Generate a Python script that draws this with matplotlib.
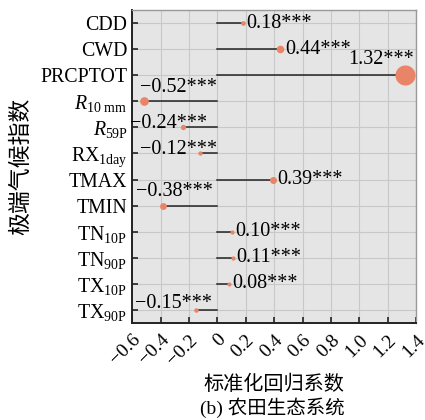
import matplotlib
matplotlib.use('Agg')
import matplotlib.pyplot as plt
import numpy as np

plt.rcParams['font.family'] = ['Liberation Serif', 'Noto Sans CJK SC']
plt.rcParams['mathtext.fontset'] = 'custom'
plt.rcParams['mathtext.rm'] = 'Liberation Serif'
plt.rcParams['mathtext.it'] = 'Liberation Serif:italic'
plt.rcParams['axes.unicode_minus'] = True

# data
indices = ['CDD', 'CWD', 'PRCPTOT', r'$R_{10\ \mathrm{mm}}$', r'$R_{59\mathrm{P}}$',
           r'RX$_{\mathrm{1day}}$', 'TMAX', 'TMIN', r'TN$_{\mathrm{10P}}$',
           r'TN$_{\mathrm{90P}}$', r'TX$_{\mathrm{10P}}$', r'TX$_{\mathrm{90P}}$']
coefs = [0.18, 0.44, 1.32, -0.52, -0.24, -0.12, 0.39, -0.38, 0.10, 0.11, 0.08, -0.15]
signif = ['***'] * 12
xticks = [-0.6, -0.4, -0.2, 0, 0.2, 0.4, 0.6, 0.8, 1.0, 1.2, 1.4]
xticklabels = ['\u22120.6', '\u22120.4', '\u22120.2', '0', '0.2', '0.4', '0.6', '0.8', '1.0', '1.2', '1.4']

# label placement (x anchor in data units or None -> next to dot; dy in points)
lab_x = [None, None, 1.385, 0.0, -0.07, 0.0, None, -0.035, None, None, None, -0.04]
lab_dy = [0, 0, 11, 10, 3, 3, 0, 10, 0, 0, 0, 4.5]

dot_col = '#EA8468'

fig = plt.figure(figsize=(4.25, 4.2), dpi=100)
ax = fig.add_axes([0.311, 0.231, 0.668, 0.745])
ax.set_facecolor('#e5e5e5')

y = np.arange(len(coefs))
for yi, v, sig, lx, dy in zip(y, coefs, signif, lab_x, lab_dy):
    ax.plot([0, v], [yi, yi], color='#222222', lw=1.1, zorder=2)
    ax.scatter(v, yi, s=8 + 115 * v ** 2, color=dot_col, zorder=3, linewidths=0)
    txt = ('%.2f' % v).replace('-', '\u2212') + sig
    if lx is None:
        r = np.sqrt(8 + 115 * v ** 2) / 2
        ax.annotate(txt, (v, yi), xytext=(r + 1.0, 0), textcoords='offset points',
                    ha='left', va='center', fontsize=14.5, zorder=4)
    else:
        ax.annotate(txt, (lx, yi), xytext=(0, dy), textcoords='offset points',
                    ha='right', va='center', fontsize=14.5, zorder=4)

ax.set_xlim(-0.6, 1.4)
ax.set_ylim(11.5, -0.5)
ax.set_yticks(y)
ax.set_yticklabels(indices, fontsize=14.3)
ax.set_xticks(xticks)
ax.set_xticklabels(xticklabels, fontsize=14, rotation=45, ha='right', va='top',
                   rotation_mode='anchor')
ax.tick_params(axis='both', direction='in', length=4, width=1.2, color='#222222')
ax.tick_params(axis='x', pad=6)
ax.grid(True, color='#c8c8c8', lw=0.8, zorder=0)
ax.set_axisbelow(True)
for s in ['left', 'bottom']:
    ax.spines[s].set_color('#222222')
    ax.spines[s].set_linewidth(1.4)
for s in ['top', 'right']:
    ax.spines[s].set_color('#999999')
    ax.spines[s].set_linewidth(1.0)

ax.set_ylabel('极端气候指数', fontsize=16.5, family=['Noto Sans CJK SC'], labelpad=6)
ax.set_xlabel('标准化回归系数', fontsize=14.5, family=['Noto Sans CJK SC'], labelpad=4)
fig.text(0.64, 0.03, '(b) 农田生态系统', fontsize=14, ha='center', va='center',
         family=['Liberation Serif', 'Noto Sans CJK SC'])

fig.savefig('out.png', dpi=100)
